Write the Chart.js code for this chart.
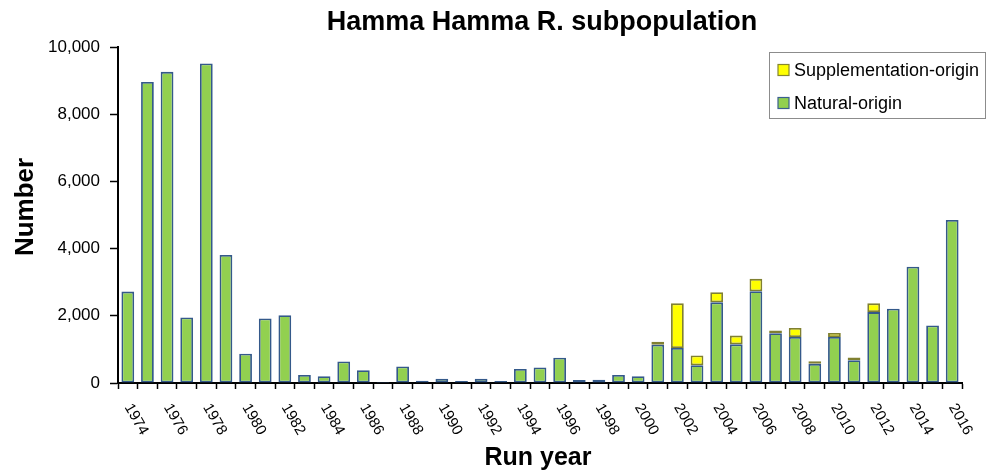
<!DOCTYPE html>
<html>
<head>
<meta charset="utf-8">
<script src="https://cdn.jsdelivr.net/npm/chart.js@4"></script>
<style>
  html, body { margin: 0; padding: 0; background: #fff; }
  #wrap { width: 989px; height: 474px; position: relative; }
</style>
</head>
<body>
<div id="wrap"><canvas id="runChart"></canvas></div>
<script>
// Hamma Hamma R. subpopulation - run size by origin
const years = [];
for (let y = 1974; y <= 2016; y++) years.push(String(y));

const naturalOrigin = [
    2720, 8960, 9260, 1950, 9510, 3810, 870, 1920, 2020, 240,
    200, 640, 380, 30, 490, 70, 130, 60, 130, 60,
    420, 460, 750, 90, 100, 240, 200, 1140, 1040, 530,
    2400, 1150, 2730, 1480, 1370, 570, 1370, 680, 2110, 2210,
    3460, 1710, 4850
];

const supplementationOrigin = [
    0, 0, 0, 0, 0, 0, 0, 0, 0, 0,
    0, 0, 0, 0, 0, 0, 0, 0, 0, 0,
    0, 0, 0, 0, 0, 0, 0, 90, 1330, 290,
    300, 260, 370, 80, 270, 80, 120, 80, 260, 0,
    0, 0, 0
];

const yTicks = [0, 2000, 4000, 6000, 8000, 10000];

const chartTitle = 'Hamma Hamma R. subpopulation';
const xTitle = 'Run year';
const yTitle = 'Number';
const legendItems = [
    { label: 'Supplementation-origin', fill: '#FFFF00', stroke: '#86862f' },
    { label: 'Natural-origin', fill: '#92D050', stroke: '#3A5F8F' }
];

const FONT = '"Liberation Sans", Arial, sans-serif';

const decorPlugin = {
    id: 'decor',
    afterDraw(chart) {
        const { ctx, chartArea, scales } = chart;
        const midX = (chartArea.left + chartArea.right) / 2;
        ctx.save();
        ctx.fillStyle = '#000';

        // title
        ctx.font = 'bold 27px ' + FONT;
        ctx.textAlign = 'center';
        ctx.textBaseline = 'alphabetic';
        ctx.fillText(chartTitle, midX + 2, 30);

        // x axis title
        ctx.font = 'bold 25px ' + FONT;
        ctx.fillText(xTitle, midX - 2, 465);

        // y axis title
        ctx.save();
        ctx.translate(33, 207);
        ctx.rotate(-Math.PI / 2);
        ctx.font = 'bold 26px ' + FONT;
        ctx.fillText(yTitle, 0, 0);
        ctx.restore();

        // x tick labels, every other year, rotated clockwise
        ctx.font = '15px ' + FONT;
        ctx.textAlign = 'left';
        ctx.textBaseline = 'middle';
        years.forEach((yr, i) => {
            if (i % 2 !== 0) return;
            const x = scales.x.getPixelForValue(i);
            ctx.save();
            ctx.translate(x, chartArea.bottom + 22);
            ctx.rotate(Math.PI / 3);
            ctx.fillText(yr, 0, 0);
            ctx.restore();
        });

        // legend box
        const lx = chartArea.right - 193;
        const ly = 52.5;
        ctx.strokeStyle = '#8c8c8c';
        ctx.lineWidth = 1;
        ctx.strokeRect(lx + 0.5, ly, 216, 66);
        ctx.font = '18px ' + FONT;
        ctx.textBaseline = 'alphabetic';
        legendItems.forEach((item, i) => {
            const my = ly + 12 + i * 33;
            ctx.fillStyle = item.fill;
            ctx.fillRect(lx + 9, my, 11, 11);
            ctx.strokeStyle = item.stroke;
            ctx.lineWidth = 1.2;
            ctx.strokeRect(lx + 9, my, 11, 11);
            ctx.fillStyle = '#000';
            ctx.fillText(item.label, lx + 25, my + 11.5);
        });

        ctx.restore();
    }
};

const ctx = document.getElementById('runChart').getContext('2d');

new Chart(ctx, {
    type: 'bar',
    data: {
        labels: years,
        datasets: [
            {
                label: 'Natural-origin',
                data: naturalOrigin,
                backgroundColor: '#92D050',
                borderColor: '#34598a',
                borderWidth: 1.8,
                borderSkipped: false
            },
            {
                label: 'Supplementation-origin',
                data: supplementationOrigin,
                backgroundColor: '#FFFF00',
                borderColor: '#808030',
                borderWidth: c => (c.raw > 0 ? 1.8 : 0),
                borderSkipped: false
            }
        ]
    },
    options: {
        responsive: true,
        maintainAspectRatio: false,
        animation: false,
        layout: { padding: { top: 47, right: 27, left: 0, bottom: 0 } },
        datasets: { bar: { barPercentage: 0.65, categoryPercentage: 1 } },
        scales: {
            x: {
                stacked: true,
                afterFit: s => { s.height = 91; },
                border: { color: '#000', width: 2 },
                grid: {
                    offset: true,
                    drawOnChartArea: false,
                    drawTicks: true,
                    tickLength: 6,
                    tickColor: '#000',
                    tickWidth: 1.5
                },
                ticks: { display: false, autoSkip: false }
            },
            y: {
                stacked: true,
                min: 0,
                max: 10000,
                afterFit: s => { s.width = 118; },
                afterBuildTicks: s => { s.ticks = yTicks.map(v => ({ value: v })); },
                border: { color: '#000', width: 2 },
                grid: {
                    drawOnChartArea: false,
                    drawTicks: true,
                    tickLength: 8,
                    tickColor: '#000',
                    tickWidth: 1.5
                },
                ticks: {
                    padding: 10,
                    color: '#000',
                    font: { family: FONT, size: 17 },
                    callback: v => v.toLocaleString('en-US')
                }
            }
        },
        plugins: {
            legend: { display: false },
            title: { display: false },
            tooltip: { enabled: false }
        }
    },
    plugins: [decorPlugin]
});
</script>
</body>
</html>
